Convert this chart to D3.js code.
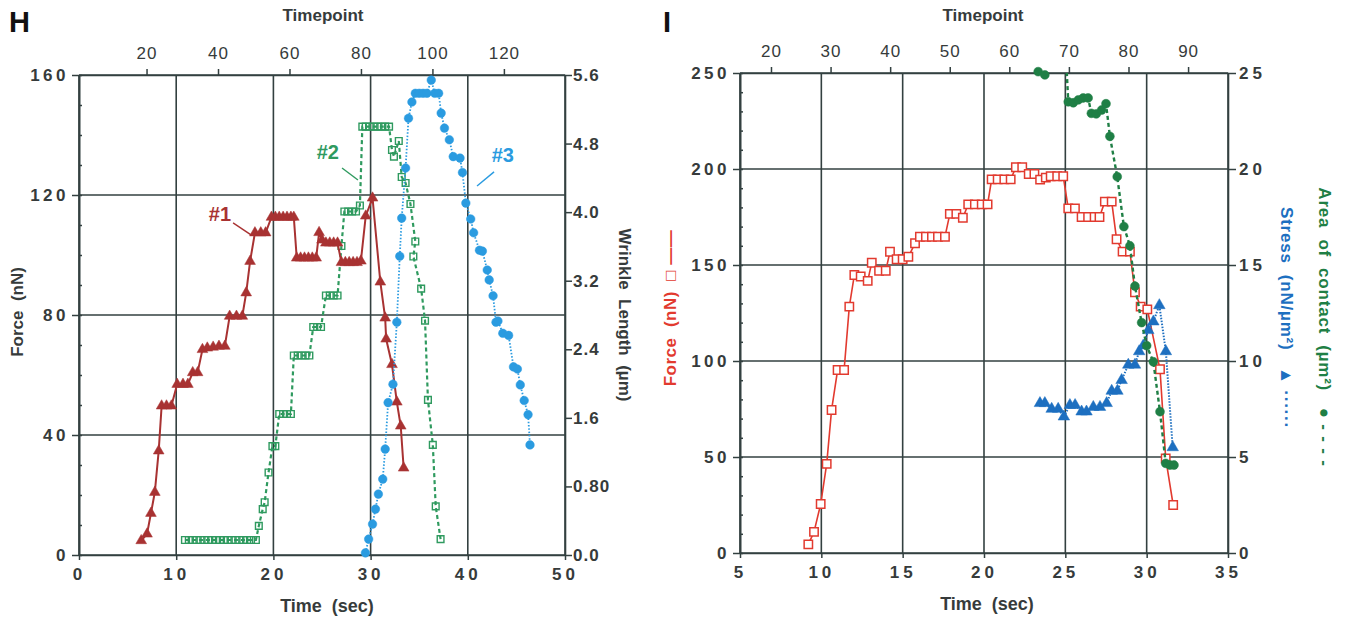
<!DOCTYPE html>
<html>
<head>
<meta charset="utf-8">
<script src="https://cdn.jsdelivr.net/npm/d3@7"></script>
<style>
body { margin: 0; background: #fff; }
svg text { font-family: "Liberation Sans", Arial, sans-serif; }
</style>
</head>
<body>
<svg id="fig" width="1347" height="622"></svg>
<script>
// ---- Panel H data: [time (sec), force (nN)] ----
var hTrace1 = [[6.4,4.8],[7.0,7],[7.4,13.9],[7.8,20.9],[8.2,34.7],[8.5,49.7],[9.0,49.7],[9.5,49.7],
  [10.1,56.9],[10.7,56.9],[11.2,56.9],[11.7,60.8],[12.2,60.8],[12.7,68.5],[13.2,69],[13.8,69.3],[14.4,69.6],[15.0,69.6],
  [15.5,79.6],[16.2,79.6],[16.8,79.6],[17.2,87.4],[17.6,97.9],[18.1,107.4],[18.7,107.4],[19.2,107.4],
  [19.8,112.6],[20.2,112.6],[20.6,112.6],[21.0,112.6],[21.4,112.6],[21.8,112.6],[22.1,112.6],
  [22.4,99],[22.8,99],[23.2,99],[23.6,99],[24.0,99],[24.4,99],[24.7,107.5],[25.0,105],
  [25.4,104],[25.8,104],[26.2,104],[26.6,104],[27.0,97.5],[27.4,97.5],[27.8,97.5],[28.2,97.5],[28.6,97.5],[29.0,98],
  [29.5,113],[30.2,119],[31.0,91],[31.5,79],[31.6,72],[32.2,63.5],[32.7,51],[33.1,43],[33.4,29]];
var hTrace2 = [[10.9,5],[11.3,5],[11.7,5],[12.1,5],[12.5,5],[12.9,5],[13.3,5],[13.7,5],[14.1,5],[14.5,5],
  [14.9,5],[15.3,5],[15.7,5],[16.1,5],[16.5,5],[16.9,5],[17.3,5],[17.7,5],[18.2,5],
  [18.5,9.7],[18.9,15.3],[19.1,17.6],[19.5,27.5],[19.9,36.3],[20.2,36.3],[20.6,47],[21.0,47],[21.4,47],[21.8,47],
  [22.1,66.5],[22.5,66.5],[22.9,66.5],[23.3,66.5],[23.7,66.5],[24.1,76],[24.5,76],[24.9,76],
  [25.4,86.5],[25.8,86.5],[26.2,86.5],[26.6,86.5],[27.0,103],[27.3,114.5],[27.7,114.5],[28.1,114.5],[28.5,114.5],[28.9,116.5],
  [29.15,142.8],[29.5,142.8],[29.9,142.8],[30.3,142.8],[30.7,142.8],[31.1,142.8],[31.5,142.8],[31.9,142.8],
  [32.2,135],[32.4,132.8],[32.9,138],[33.2,126],[33.6,124],[34.1,117],[34.6,104.5],[34.4,99.5],
  [35.2,88.8],[35.6,78.1],[35.9,51.7],[36.4,36.7],[36.7,16.2],[37.2,5.3]];
var hTrace3 = [[29.47,0.7],[29.8,5.3],[30.2,10.3],[30.5,15.3],[30.8,20.3],[31.25,25.3],[31.5,35.3],[31.8,50.8],
  [32.3,56.9],[32.7,77.6],[33.0,99.6],[33.2,112.3],[33.6,129],[33.9,145.6],[34.25,151],[34.6,153.9],[35.0,153.9],
  [35.4,153.9],[35.8,153.9],[36.24,158.3],[36.6,153.9],[37.0,153.9],[37.26,147.3],[37.6,142.3],[38.1,138.4],
  [38.5,132.8],[39.2,132.3],[39.45,127.5],[39.8,117.3],[40.3,112],[40.6,107.4],[41.2,101.6],[41.5,101.3],
  [42.0,95],[42.2,91.7],[42.6,86.4],[42.9,77.6],[43.1,78],[43.6,73.9],[44.2,73.2],[44.7,62.7],[45.1,62],
  [45.4,56.7],[45.8,51.5],[46.2,46.8],[46.4,36.7]];
// trace labels: text position and leader line, in data units
var hLabels = [
  {text: "#1", t: 14.5, f: 113, t1: 15.85, f1: 110.7, t2: 17.7, f2: 106.7, color: "#a83232"},
  {text: "#2", t: 25.6, f: 133.7, t1: 27.06, f1: 129, t2: 28.7, f2: 125, color: "#2f9a5f"},
  {text: "#3", t: 43.6, f: 132.7, t1: 42.7, f1: 127.7, t2: 40.95, f2: 123, color: "#2a9be0"}];
var hTimeTicks = [0, 10, 20, 30, 40, 50];
var hForceTicks = [0, 40, 80, 120, 160];
var hWrinkleTicks = [0, 0.8, 1.6, 2.4, 3.2, 4.0, 4.8, 5.6];
var hTimepointTicks = [20, 40, 60, 80, 100, 120];
var hTimepointDomain = [1.1, 137.1]; // timepoint at t = 0 and t = 50

// ---- Panel I data ----
var iForce = [[9.2,4.5],[9.55,11],[9.96,25.5],[10.33,46.4],[10.63,74.5],[11.0,95.3],[11.4,95.3],[11.72,128.3],
  [12.03,144.8],[12.42,144],[12.85,141.7],[13.1,151.2],[13.55,147],[13.96,147],[14.22,156.9],[14.63,153],[15.0,153],
  [15.35,154.3],[15.76,161.3],[16.06,164.7],[16.43,164.7],[16.8,164.7],[17.17,164.7],[17.6,164.7],[17.9,176.6],
  [18.3,176.6],[18.7,174.6],[19.03,181.6],[19.44,181.6],[19.86,181.6],[20.22,181.6],[20.47,194.6],[20.84,194.6],
  [21.25,194.6],[21.64,194.6],[21.96,200.9],[22.35,200.9],[22.75,197.4],[23.1,197.4],[23.45,194.5],[23.8,195.5],
  [24.1,196.2],[24.5,196.2],[24.87,196.2],[25.18,179.5],[25.59,179.5],[26.0,175],[26.4,175],[26.8,175],[27.1,175],
  [27.43,183],[27.85,183],[28.15,163.4],[28.52,157],[28.97,157],[29.28,135.8],[29.63,128.3],[30.04,126.9],
  [30.82,95.7],[31.17,49.3],[31.63,25]];
var iStress = [[23.44,7.8],[23.74,7.8],[24.16,7.5],[24.56,7.5],[24.91,7.1],[25.28,7.7],[25.6,7.7],[26.0,7.36],
  [26.3,7.36],[26.72,7.6],[27.13,7.6],[27.54,7.8],[27.85,8.44],[28.2,8.44],[28.46,9.0],[28.87,9.8],[29.28,9.8],
  [29.54,10.5],[29.79,10.8],[30.1,11.6],[30.41,12.05],[30.78,12.9],[31.18,10.5],[31.6,5.5]];
var iArea = [[23.33,25.07],[23.74,24.9],[24.4,null],[25.0,26.5],[25.18,23.5],[25.49,23.45],[25.8,23.6],[26.1,23.7],
  [26.4,23.7],[26.6,22.9],[26.9,22.87],[27.23,23.07],[27.5,23.4],[27.74,21.7],[28.19,19.6],[28.6,17.0],[28.97,16.0],
  [29.28,13.9],[29.69,12.0],[30.0,10.8],[30.41,9.96],[30.82,7.36],[31.17,4.67],[31.43,4.58],[31.68,4.58]];
var iTimeTicks = [5, 10, 15, 20, 25, 30, 35];
var iForceTicks = [0, 50, 100, 150, 200, 250];
var iRightTicks = [0, 5, 10, 15, 20, 25];
var iTimepointTicks = [20, 30, 40, 50, 60, 70, 80, 90];
var iTimepointDomain = [14.8, 96.7]; // timepoint at t = 5 and t = 35

var ink = "#334040", txt = "#363b3b", font = "Liberation Sans, Arial, sans-serif";
var svg = d3.select("#fig");

// axis styling, d3 gives its own font so override it
function styleAxis(g, size, bold, ls) {
  g.attr("font-family", font).attr("font-size", size);
  g.select(".domain").attr("stroke", ink).attr("stroke-width", 1.6);
  g.selectAll(".tick line").attr("stroke", ink).attr("stroke-width", 1.5);
  g.selectAll(".tick text").attr("fill", txt)
    .style("font-weight", bold ? "bold" : "normal")
    .style("letter-spacing", ls + "px");
  return g;
}

function grid(g, x, y, xt, yt) {
  var x0 = x.range()[0], x1 = x.range()[1], y0 = y.range()[0], y1 = y.range()[1];
  g.selectAll(null).data(xt).join("line")
    .attr("x1", d => x(d)).attr("x2", d => x(d)).attr("y1", y0).attr("y2", y1)
    .attr("stroke", ink).attr("stroke-width", 1.6);
  g.selectAll(null).data(yt).join("line")
    .attr("x1", x0).attr("x2", x1).attr("y1", d => y(d)).attr("y2", d => y(d))
    .attr("stroke", ink).attr("stroke-width", 1.6);
}

function drawSeries(g, data, x, y, o) {
  var line = d3.line().defined(d => d[1] != null).x(d => x(d[0])).y(d => y(d[1]));
  g.append("path").datum(data).attr("d", line)
    .attr("fill", "none").attr("stroke", o.color).attr("stroke-width", o.lw)
    .attr("stroke-dasharray", o.dash).attr("clip-path", o.clip || null);
  var sym = d3.symbol().type(o.symbol).size(o.size);
  var top = y.domain()[1] * 1.01;
  g.selectAll(null).data(data.filter(d => d[1] != null && d[1] <= top)).join("path")
    .attr("transform", d => "translate(" + x(d[0]) + "," + y(d[1]) + ")")
    .attr("d", sym).attr("fill", o.fill).attr("stroke", o.color).attr("stroke-width", o.sw);
}

function label(txtStr, x, y, rot, o) {
  var t = svg.append("text").attr("transform", "translate(" + x + "," + y + ") rotate(" + rot + ")")
    .attr("text-anchor", "middle").attr("dominant-baseline", "middle")
    .attr("font-size", o.size).attr("font-weight", o.weight || "bold")
    .attr("fill", o.color || txt).style("white-space", "pre")
    .style("letter-spacing", (o.ls || 0) + "px").text(txtStr);
  return t;
}

// ================= Panel H =================
var xH = d3.scaleLinear().domain([0, 50]).range([79, 565]);
var yH = d3.scaleLinear().domain([0, 160]).range([555, 75]);
var yHr = d3.scaleLinear().domain([0, 5.6]).range([555, 75]);
var tpH = d3.scaleLinear().domain(hTimepointDomain).range([79, 565]);

var gH = svg.append("g");
grid(gH, xH, yH, hTimeTicks, hForceTicks);

styleAxis(gH.append("g").attr("transform", "translate(79,0)")
  .call(d3.axisLeft(yH).tickValues(hForceTicks).tickSize(7).tickPadding(3).tickSizeOuter(0)), 17, true, 3.5);
styleAxis(gH.append("g").attr("transform", "translate(79,0)")
  .call(d3.axisRight(yH).ticks(16).tickSize(3).tickFormat("").tickSizeOuter(0)), 16, true, 0);
styleAxis(gH.append("g").attr("transform", "translate(0,555)")
  .call(d3.axisBottom(xH).tickValues(hTimeTicks).tickSize(5).tickPadding(8).tickSizeOuter(0)), 17, true, 4);
styleAxis(gH.append("g").attr("transform", "translate(0,75)")
  .call(d3.axisTop(tpH).tickValues(hTimepointTicks).tickSize(6).tickPadding(10).tickSizeOuter(0)), 17, false, 1);
styleAxis(gH.append("g").attr("transform", "translate(565,0)")
  .call(d3.axisRight(yHr).tickValues(hWrinkleTicks).tickSize(7).tickPadding(1).tickSizeOuter(0)
    .tickFormat(d => d === 0.8 ? "0.80" : d3.format(".1f")(d))), 17, true, 1);

drawSeries(gH, hTrace2, xH, yH, {color: "#2f9a5f", lw: 2.2, dash: "4,3", symbol: d3.symbolSquare, size: 45, fill: "none", sw: 1.4});
drawSeries(gH, hTrace1, xH, yH, {color: "#a83232", lw: 2, dash: null, symbol: d3.symbolTriangle, size: 50, fill: "#a83232", sw: 0.5});
drawSeries(gH, hTrace3, xH, yH, {color: "#2a9be0", lw: 1.8, dash: "1.5,1.8", symbol: d3.symbolCircle, size: 58, fill: "#2a9be0", sw: 0.5});

hLabels.forEach(function (l) {
  gH.append("line").attr("x1", xH(l.t1)).attr("y1", yH(l.f1)).attr("x2", xH(l.t2)).attr("y2", yH(l.f2))
    .attr("stroke", l.color).attr("stroke-width", 1.4);
  gH.append("text").attr("x", xH(l.t)).attr("y", yH(l.f)).attr("text-anchor", "middle").attr("dominant-baseline", "middle")
    .attr("font-size", 20).attr("font-weight", "bold").attr("fill", l.color).text(l.text);
});

svg.append("text").attr("x", 9).attr("y", 32).attr("font-size", 29).attr("font-weight", "bold").attr("fill", "#111").text("H");
label("Timepoint", 323, 17, 0, {size: 17});
label("Time  (sec)", 327, 607, 0, {size: 18});
label("Force  (nN)", 19, 312, -90, {size: 17});
label("Wrinkle  Length  (\u00b5m)", 623, 315, 90, {size: 17});

// ================= Panel I =================
var xI = d3.scaleLinear().domain([5, 35]).range([740, 1228]);
var yI = d3.scaleLinear().domain([0, 250]).range([553, 73]);
var yIr = d3.scaleLinear().domain([0, 25]).range([553, 73]);
var tpI = d3.scaleLinear().domain(iTimepointDomain).range([740, 1228]);

var gI = svg.append("g");
svg.append("clipPath").attr("id", "clipI").append("rect")
  .attr("x", 740).attr("y", 73).attr("width", 488).attr("height", 480);
grid(gI, xI, yI, iTimeTicks, iForceTicks);

styleAxis(gI.append("g").attr("transform", "translate(740,0)")
  .call(d3.axisLeft(yI).tickValues(iForceTicks).tickSize(7).tickPadding(3).tickSizeOuter(0)), 17, true, 3.5);
styleAxis(gI.append("g").attr("transform", "translate(740,0)")
  .call(d3.axisRight(yI).ticks(25).tickSize(3).tickFormat("").tickSizeOuter(0)), 16, true, 0);
styleAxis(gI.append("g").attr("transform", "translate(0,553)")
  .call(d3.axisBottom(xI).tickValues(iTimeTicks).tickSize(5).tickPadding(8).tickSizeOuter(0)), 17, true, 4);
styleAxis(gI.append("g").attr("transform", "translate(0,73)")
  .call(d3.axisTop(tpI).tickValues(iTimepointTicks).tickSize(6).tickPadding(10).tickSizeOuter(0)), 17, false, 1);
styleAxis(gI.append("g").attr("transform", "translate(1228,0)")
  .call(d3.axisRight(yIr).tickValues(iRightTicks).tickSize(8).tickPadding(3).tickSizeOuter(0)), 17, true, 4);

drawSeries(gI, iForce, xI, yI, {color: "#e23a2f", lw: 1.6, dash: null, symbol: d3.symbolSquare, size: 70, fill: "#fff", sw: 1.5});
drawSeries(gI, iStress, xI, yIr, {color: "#1d6fc0", lw: 2, dash: "1.5,1.5", symbol: d3.symbolTriangle, size: 58, fill: "#1d6fc0", sw: 0.5});
drawSeries(gI, iArea, xI, yIr, {color: "#1f7f45", lw: 2.4, dash: "4,3", symbol: d3.symbolCircle, size: 62, fill: "#1f7f45", sw: 0.5, clip: "url(#clipI)"});

svg.append("text").attr("x", 663).attr("y", 32).attr("font-size", 29).attr("font-weight", "bold").attr("fill", "#111").text("I");
label("Timepoint", 983, 17, 0, {size: 17});
label("Time  (sec)", 987, 605, 0, {size: 18});
label("Force  (nN)  \u25a1 \u2014\u2014", 672, 308, -90, {size: 17, color: "#e23a2f", ls: 0.5});
label("Stress  (nN/\u00b5m\u00b2)   \u25b2 \u00b7\u00b7\u00b7\u00b7\u00b7\u00b7", 1285, 318, 90, {size: 17, color: "#1d6fc0", ls: 0.8});
label("Area  of  contact  (\u00b5m\u00b2)   \u25cf - - - -", 1323, 327, 90, {size: 17, color: "#1f7f45", ls: 0.8});
</script>
</body>
</html>
